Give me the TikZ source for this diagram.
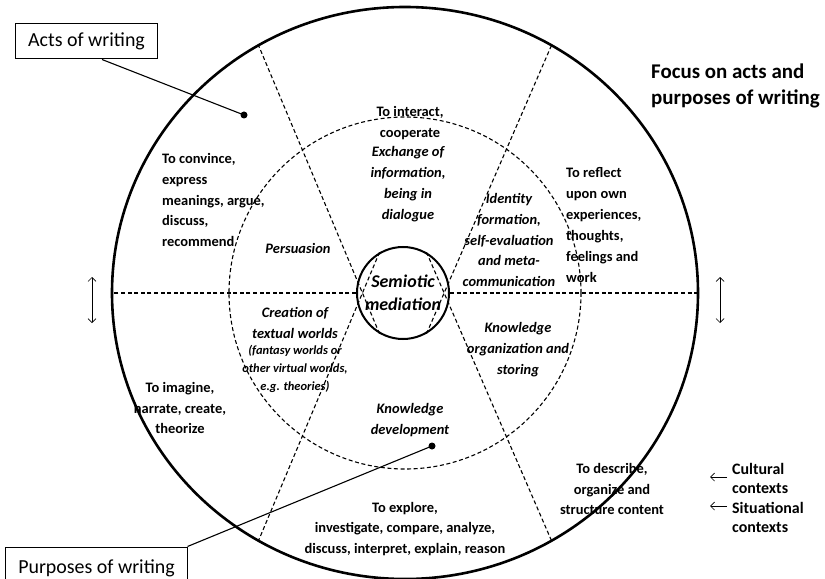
\documentclass[tikz,border=0pt]{standalone}
\usepackage{fontspec}
\setmainfont{Carlito}
\usetikzlibrary{arrows.meta,calc}
\begin{document}
\begin{tikzpicture}[x=1bp,y=-1bp,
  body/.style={font=\bfseries\fontsize{14.5}{21}\selectfont, align=center, inner sep=0pt},
  bodyl/.style={body, align=left},
  inlabel/.style={font=\bfseries\itshape\fontsize{14.5}{21}\selectfont, align=center, inner sep=0pt},
  divider/.style={line width=1.1bp, dash pattern=on 4bp off 2.6bp},
  callout/.style={draw, line width=1bp, font=\fontsize{20}{24}\selectfont, inner sep=0pt},
  leader/.style={line width=1.1bp},
  barb/.style={line width=0.7bp, {Straight Barb[length=4bp,width=8bp]}-{Straight Barb[length=4bp,width=8bp]}},
  lbarb/.style={line width=0.7bp, -{Straight Barb[length=4bp,width=8bp]}},
]
\useasboundingbox (0,0) rectangle (825,579);
\coordinate (c) at (405,293);
% outer circle
\draw[line width=2.6bp] (c) ellipse [x radius=293bp, y radius=286bp];
% middle dashed circle
\draw[divider] (c) circle [radius=176bp];
% centre
\node[draw, circle, line width=2bp, minimum size=92bp, inner sep=0pt,
      font=\bfseries\itshape\fontsize{18}{23}\selectfont, align=center] (sem) at (403,293) {Semiotic\\mediation};
% spokes
\foreach \a in {0,60,120,180,240,300}
  \draw[divider] (sem.\a) -- ($(c)+({293*cos(\a)},{286*sin(\a)})$);

% outer ring texts
\node[body] (interact) at (410,123) {To interact,\\cooperate};
\node[bodyl, anchor=west] (reflect) at (566,225) {To reflect\\upon own\\experiences,\\thoughts,\\feelings and\\work};
\node[bodyl, anchor=west] (convince) at (162,200) {To convince,\\express\\meanings, argue,\\discuss,\\recommend};
\node[body] (imagine) at (180,408) {To imagine,\\narrate, create,\\theorize};
\node[body] (describe) at (612,489) {To describe,\\organize and\\structure content};
\node[body] (explore) at (405,529) {To explore,\\investigate, compare, analyze,\\discuss, interpret, explain, reason};

% inner ring texts
\node[inlabel] (exchange) at (408,184) {Exchange of\\information,\\being in\\dialogue};
\node[inlabel] (identity) at (509,240) {Identity\\formation,\\self-evaluation\\and meta-\\communication};
\node[inlabel] (persuasion) at (298,248) {Persuasion};
\node[inlabel] (creation) at (295,323) {Creation of\\textual worlds};
\node[inlabel, font=\bfseries\itshape\fontsize{12.5}{18}\selectfont] (fantasy) at (295,369) {(fantasy worlds or\\other virtual worlds,\\e.g. theories)};
\node[inlabel] (storing) at (518,350) {Knowledge\\organization and\\storing};
\node[inlabel] (develop) at (410,420) {Knowledge\\development};

% title
\node[font=\bfseries\fontsize{21}{26}\selectfont, align=left, anchor=west, inner sep=0pt] (focus) at (651,86) {Focus on acts and\\purposes of writing};

% side arrows
\coordinate (lt) at (92,277); \coordinate (lb) at (92,323);
\coordinate (rt) at (720,277); \coordinate (rb) at (720,323);
\draw[barb] (lt) -- (lb);
\draw[barb] (rt) -- (rb);

% contexts
\node[body, align=left, anchor=north west, font=\bfseries\fontsize{16}{19.5}\selectfont] (ctx) at (732,463) {Cultural\\contexts\\Situational\\contexts};
\coordinate (a1s) at (727,477); \coordinate (a1e) at (710,477);
\coordinate (a2s) at (727,506); \coordinate (a2e) at (710,506);
\draw[lbarb] (a1s) -- (a1e);
\draw[lbarb] (a2s) -- (a2e);

% callouts
\node[callout, minimum width=141bp, minimum height=35bp] (acts) at (86.5,41.5) {Acts of writing};
\coordinate (dotA) at (244,115);
\fill (dotA) circle [radius=3.5bp];
\draw[leader] ($(acts.south)+(15.5,0)$) -- (dotA);

\node[callout, minimum width=181bp, minimum height=42bp] (purp) at (96.5,568) {Purposes of writing};
\coordinate (dotB) at (432,446);
\fill (dotB) circle [radius=3.5bp];
\draw[leader] (purp.north east) -- (dotB);
\end{tikzpicture}
\end{document}
